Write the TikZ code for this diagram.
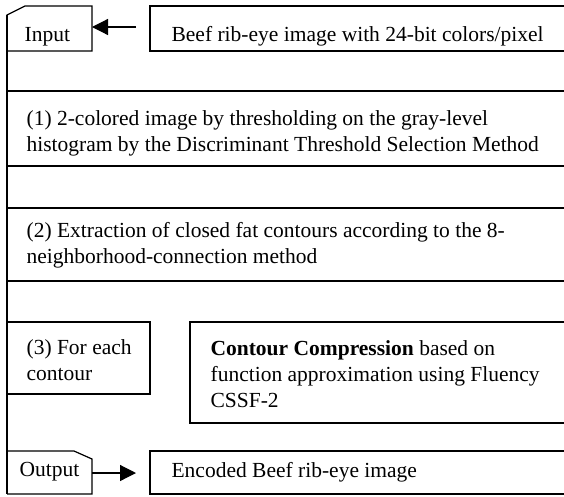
\documentclass[tikz,border=0pt]{standalone}
\usepackage{fontspec}
\setmainfont{Liberation Serif}
\usetikzlibrary{arrows.meta}
\begin{document}
\begin{tikzpicture}[x=1pt,y=-1pt,line width=1.2pt,
  font=\fontsize{21.5}{26}\selectfont,
  txt/.style={anchor=west,inner sep=0pt,align=left},
  arr/.style={-{Triangle[length=16pt,width=16pt]}}]
  \useasboundingbox (0,0) rectangle (564,496);
  \clip (0,0) rectangle (564,496);
  % left frame
  \draw (7,15) -- (7,494);
  % input box
  \draw (7,51) -- (7,15) -- (25,6) -- (92,6) -- (92,51) -- (7,51);
  \coordinate (inE) at (92,27);
  \node[txt] (in) at (24,37) {Input};
  \draw (600,6) -- (150,6) -- (150,51) -- (600,51);
  \coordinate (beefW) at (150,27);
  \node[txt] (beef) at (171,36) {Beef rib-eye image with 24-bit colors/pixel};
  \draw[arr,shorten <=14pt] (beefW) -- (inE);
  % separators
  \foreach \y in {91,166,208,281}
    \draw (7,\y) -- (564,\y);
  % step 1
  \node[txt] (s1) at (26,133) {(1) 2-colored image by thresholding on the gray-level\\
    histogram by the Discriminant Threshold Selection Method};
  % step 2
  \node[txt] (s2) at (26,245) {(2) Extraction of closed fat contours according to the 8-\\
    neighborhood-connection method};
  % step 3
  \draw (7,322) rectangle (150,394);
  \node[txt] (s3) at (26,360) {(3) For each\\contour};
  \draw (600,322) -- (190,322) -- (190,423) -- (600,423);
  \node[txt] (cc) at (210,374) {\textbf{Contour Compression} based on\\
    function approximation using Fluency\\CSSF-2};
  % output box
  \draw (7,451) -- (74,451) -- (92,459) -- (92,494) -- (7,494);
  \coordinate (outE) at (92,473);
  \node[txt] (out) at (19,472) {Output};
  \draw (600,451) -- (150,451) -- (150,494) -- (600,494);
  \coordinate (encW) at (150,473);
  \node[txt] (enc) at (171,472) {Encoded Beef rib-eye image};
  \draw[arr,shorten >=14pt] (outE) -- (encW);
\end{tikzpicture}
\end{document}
